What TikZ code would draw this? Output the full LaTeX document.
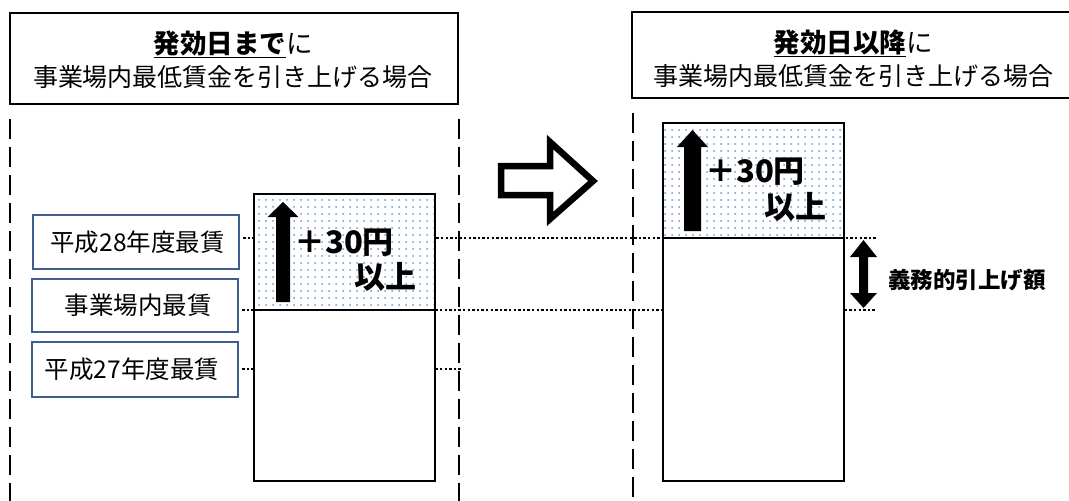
\documentclass[tikz,border=0pt]{standalone}
\usepackage{fontspec}
\setmainfont{Noto Sans CJK JP}
\usetikzlibrary{patterns.meta,calc}
\definecolor{labelblue}{HTML}{3D5F8F}
\definecolor{dotblue}{HTML}{6A98D0}
\tikzset{
  header/.style={draw, line width=2pt, inner sep=0pt, outer sep=0pt},
  dashline/.style={line width=2pt, dash pattern=on 20pt off 8pt},
  level/.style={line width=2.2pt, dash pattern=on 2.4pt off 2.2pt},
  labelbox/.style={draw=labelblue, line width=2.5pt, fill=white, inner sep=0pt,
    minimum width=206pt, minimum height=53pt, font=\fontsize{24.5}{26}\selectfont},
  barpart/.style={draw, line width=2pt, fill=white, inner sep=0pt, outer sep=0pt,
    minimum width=181pt, anchor=north west},
  raised/.style={barpart, fill=none, preaction={fill=white},
    pattern={Dots[distance=7pt,radius=1pt]}, pattern color=dotblue},
  bigtext/.style={font=\fontsize{31}{33}\selectfont\bfseries, inner sep=0pt},
  blockarrow/.style={fill=black},
}
\begin{document}
\begin{tikzpicture}[x=1pt,y=-1pt]
\useasboundingbox (0,0) rectangle (1069,501);

% headers
\node[header, minimum width=448pt, minimum height=91pt, anchor=north west] (hl) at (10,13) {};
\node[header, minimum width=448pt, minimum height=86pt, anchor=north west] (hr) at (632,12) {};
\node[align=center, inner sep=0pt] (tl1) at (233,44)
  {\fontsize{26.5}{28}\selectfont\underline{\bfseries 発効日まで}に};
\node[inner sep=0pt] (tl2) at (233,77)
  {\fontsize{25}{27}\selectfont 事業場内最低賃金を引き上げる場合};
\node[align=center, inner sep=0pt] (tr1) at (853,43)
  {\fontsize{26.5}{28}\selectfont\underline{\bfseries 発効日以降}に};
\node[inner sep=0pt] (tr2) at (853,76)
  {\fontsize{25}{27}\selectfont 事業場内最低賃金を引き上げる場合};

% dashed panel sides
\draw[dashline] ($(hl.south west)+(0,15)$) -- (10,501);
\draw[dashline] ($(hl.south east)+(1,15)$) -- (459,501);
\draw[dashline] ($(hr.south west)+(1,15)$) -- (633,501);

% level coordinates
\coordinate (e28) at (877,238);
\coordinate (ein) at (877,310);
\coordinate (e27) at (462,369);

% labels
\node[labelbox, minimum height=54pt] (lab28) at (136,242) {\hspace{3pt}平成28年度最賃};
\node[labelbox] (labin) at (135,305.5) {\hspace{6pt}事業場内最賃};
\node[labelbox, minimum height=55pt] (lab27) at (135,369.5) {\hspace{-6pt}平成27年度最賃};

% dotted level lines
\draw[level] (lab28.east |- e28) ++(3,0) -- (e28);
\draw[level] (labin.east |- ein) ++(3,0) -- (ein);
\draw[level] (lab27.east |- e27) ++(3,0) -- (e27);

% left bar
\node[raised, minimum height=116pt] (lup) at (254,194) {};
\node[barpart, minimum height=171pt] (llow) at (254,310) {};
% right bar
\node[raised, minimum height=115pt] (rup) at (663,123) {};
\node[barpart, minimum height=243pt] (rlow) at (663,238) {};

% up arrows
\fill[blockarrow] (283,202) -- (298.5,217) -- (290,217) -- (290,302) -- (276,302) -- (276,217) -- (267.5,217) -- cycle;
\fill[blockarrow] (692.5,130) -- (708,147) -- (701,147) -- (701,231) -- (684,231) -- (684,147) -- (677,147) -- cycle;

\node[bigtext] (p30l) at (344,243) {＋30円};
\node[bigtext] (ijl) at (385,277) {以上};
\node[bigtext] (p30r) at (755,172) {＋30円};
\node[bigtext] (ijr) at (795,207) {以上};

% double arrow
\fill[blockarrow] (863.5,240) -- (877,257) -- (868,257) -- (868,293) -- (877,293) -- (863.5,308)
  -- (850,293) -- (859,293) -- (859,257) -- (850,257) -- cycle;
\node[font=\fontsize{22.5}{24}\selectfont\bfseries, inner sep=0pt] (duty) at (967,280) {義務的引上げ額};

% hollow transition arrow
\draw[line width=6.5pt, fill=white, line join=miter]
  (501,166) -- (550,166) -- (550,142) -- (593,181) -- (550,219) -- (550,195) -- (501,195) -- cycle;
\end{tikzpicture}
\end{document}
